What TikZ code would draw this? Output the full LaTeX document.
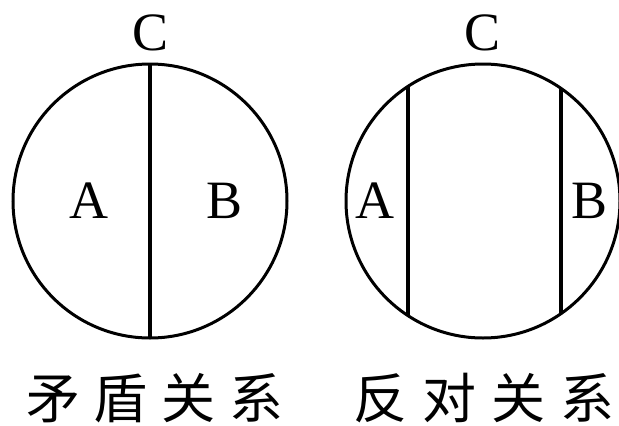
\documentclass[tikz,border=0pt]{standalone}
\usepackage{fontspec}
\setmainfont{Liberation Serif}
\newfontfamily\cjk{Noto Sans CJK SC}
\begin{document}
\begin{tikzpicture}[x=1pt,y=-1pt,
  ring/.style={circle,draw,line width=3pt,inner sep=0pt,outer sep=0pt,minimum size=274pt},
  divider/.style={line width=3.2pt},
  lab/.style={font=\fontsize{54}{60}\selectfont,inner sep=0pt},
  capt/.style={font=\cjk\fontsize{54}{60}\selectfont,inner sep=0pt}]
\useasboundingbox (0,0) rectangle (619,426);
% left: contradiction
\node[ring] (L) at (150,201) {};
\draw[divider] (L.north) -- (L.south);
\node[lab] (LC) at (151,33) {C};
\node[lab] (LA) at (89,201) {A};
\node[lab] (LB) at (225,201) {B};
\node[capt] (Lt) at (155,398) {矛\kern14pt 盾\kern14pt 关\kern14pt 系};
% right: contrary
\node[ring] (R) at (483,201) {};
\coordinate (R1t) at ([shift={(-75,-114.6)}]R.center);
\coordinate (R1b) at ([shift={(-75,114.6)}]R.center);
\coordinate (R2t) at ([shift={(78,-112.6)}]R.center);
\coordinate (R2b) at ([shift={(78,112.6)}]R.center);
\draw[divider] (R1t) -- (R1b);
\draw[divider] (R2t) -- (R2b);
\node[lab] (RC) at (483,33) {C};
\node[lab] (RA) at (375,201) {A};
\node[lab] (RB) at (590,201) {B};
\node[capt] (Rt) at (484,398) {反\kern15pt 对\kern15pt 关\kern15pt 系};
\end{tikzpicture}
\end{document}
